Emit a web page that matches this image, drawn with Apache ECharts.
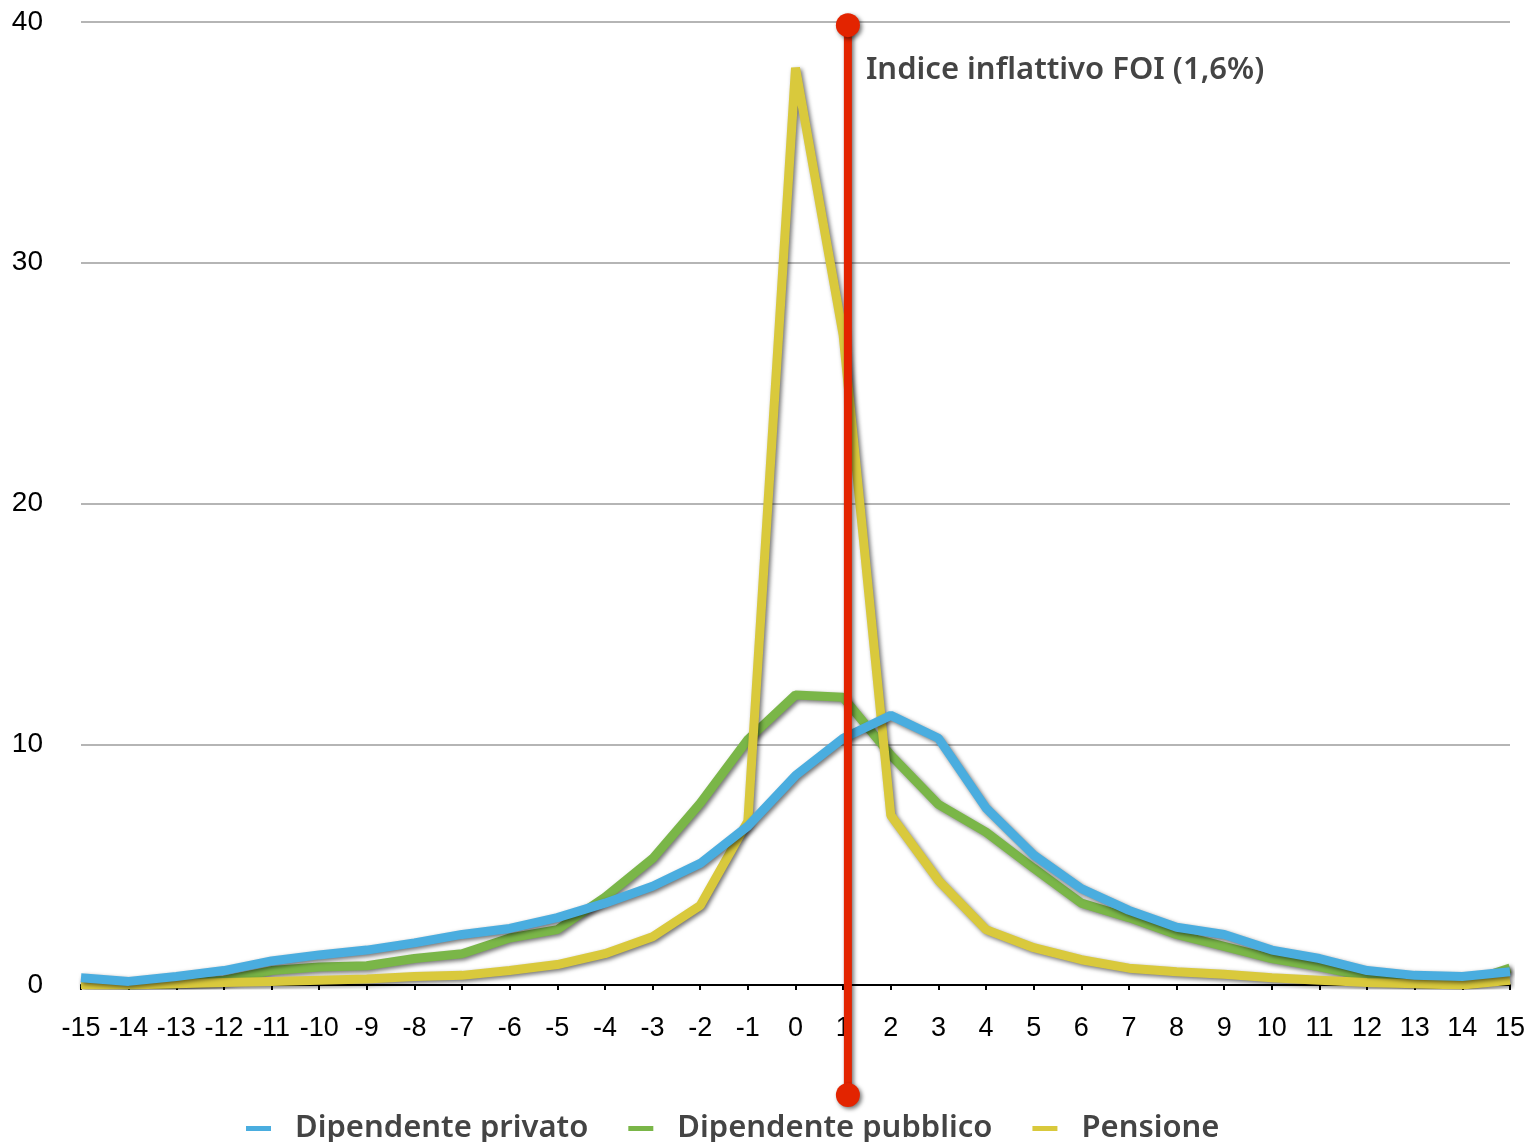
<!DOCTYPE html>
<html>
<head>
<meta charset="utf-8">
<title>Variazione reddito</title>
<script src="https://cdn.jsdelivr.net/npm/echarts@6/dist/echarts.min.js"></script>
<style>
  html, body { margin: 0; padding: 0; background: #fff; }
  #chart { width: 1530px; height: 1142px; }
</style>
</head>
<body>
<div id="chart"></div>
<script>
// Variazione percentuale (x) e quota di contribuenti in % (y)
const xValues = [-15,-14,-13,-12,-11,-10,-9,-8,-7,-6,-5,-4,-3,-2,-1,0,1,2,3,4,5,6,7,8,9,10,11,12,13,14,15];

const privato = [0.3,0.15,0.35,0.6,1.0,1.25,1.45,1.75,2.1,2.35,2.8,3.4,4.1,5.05,6.6,8.7,10.25,11.2,10.25,7.35,5.4,4.0,3.1,2.4,2.1,1.45,1.1,0.6,0.4,0.35,0.55];
const pubblico = [0.1,0.0,0.05,0.2,0.6,0.75,0.8,1.1,1.3,1.95,2.3,3.65,5.25,7.55,10.2,12.05,11.95,9.55,7.5,6.35,4.85,3.4,2.8,2.1,1.6,1.1,0.75,0.35,0.15,0.05,0.7];
const pensione = [0.0,0.0,0.05,0.1,0.15,0.2,0.25,0.35,0.4,0.6,0.85,1.3,2.0,3.3,6.8,38.1,27.0,7.05,4.35,2.3,1.55,1.05,0.7,0.55,0.45,0.3,0.2,0.1,0.05,0.0,0.2];

const yTicks = [0, 10, 20, 30, 40];

// Linea verticale dell'indice FOI
const foiX = 1.1;
const foiTop = 39.87;
const foiBottom = -4.57;
const foiLabel = 'Indice inflattivo FOI (1,6%)';

const pairs = (vals) => xValues.map((x, i) => [x, vals[i]]);

const shadow = {
  shadowColor: 'rgba(0,0,0,0.55)',
  shadowBlur: 4,
  shadowOffsetX: 2,
  shadowOffsetY: 2
};

function lineSeries(name, color, vals) {
  return {
    name: name,
    type: 'line',
    data: pairs(vals),
    symbol: 'none',
    color: color,
    lineStyle: Object.assign({ width: 9, color: color, join: 'bevel' }, shadow),
    z: 3
  };
}

const chart = echarts.init(document.getElementById('chart'), null, { renderer: 'canvas' });

chart.setOption({
  animation: false,
  backgroundColor: '#ffffff',
  grid: { left: 81, right: 20, top: 22, bottom: 157 },
  legend: {
    data: ['Dipendente privato', 'Dipendente pubblico', 'Pensione'],
    top: 1108,
    left: 241,
    icon: 'rect',
    itemWidth: 25,
    itemHeight: 5,
    itemGap: 40,
    textStyle: {
      fontFamily: 'Noto Sans',
      fontWeight: 600,
      fontSize: 31,
      color: '#444444',
      padding: [0, 0, 0, 19]
    }
  },
  xAxis: {
    type: 'value',
    min: -15,
    max: 15,
    interval: 1,
    axisLine: { show: true, onZero: false, lineStyle: { color: '#000', width: 2 } },
    axisTick: { show: true, length: 5, lineStyle: { color: '#000', width: 2 } },
    axisLabel: {
      margin: 30,
      fontFamily: 'Liberation Sans',
      fontSize: 27,
      color: '#000',
      formatter: (v) => String(v)
    },
    splitLine: { show: false }
  },
  yAxis: {
    type: 'value',
    min: yTicks[0],
    max: yTicks[yTicks.length - 1],
    interval: 10,
    axisLine: { show: false },
    axisTick: { show: false },
    axisLabel: {
      margin: 38,
      fontFamily: 'Liberation Sans',
      fontSize: 28,
      color: '#000'
    },
    splitLine: { show: true, lineStyle: { color: '#b5b5b5', width: 2 } }
  },
  series: [
    lineSeries('Dipendente pubblico', '#7ab648', pubblico),
    lineSeries('Pensione', '#d9c93c', pensione),
    lineSeries('Dipendente privato', '#4aaddf', privato),
    {
      name: 'FOI',
      type: 'line',
      clip: false,
      z: 5,
      data: [
        {
          value: [foiX, foiTop],
          label: {
            show: true,
            position: 'right',
            offset: [1, 45],
            formatter: foiLabel,
            fontFamily: 'Noto Sans',
            fontWeight: 600,
            fontSize: 31,
            color: '#444444'
          }
        },
        [foiX, foiBottom]
      ],
      symbol: 'circle',
      symbolSize: 24,
      itemStyle: Object.assign({ color: '#e32400' }, shadow),
      lineStyle: Object.assign({ width: 8, color: '#e32400' }, shadow),
      color: '#e32400'
    }
  ]
});
</script>
</body>
</html>
